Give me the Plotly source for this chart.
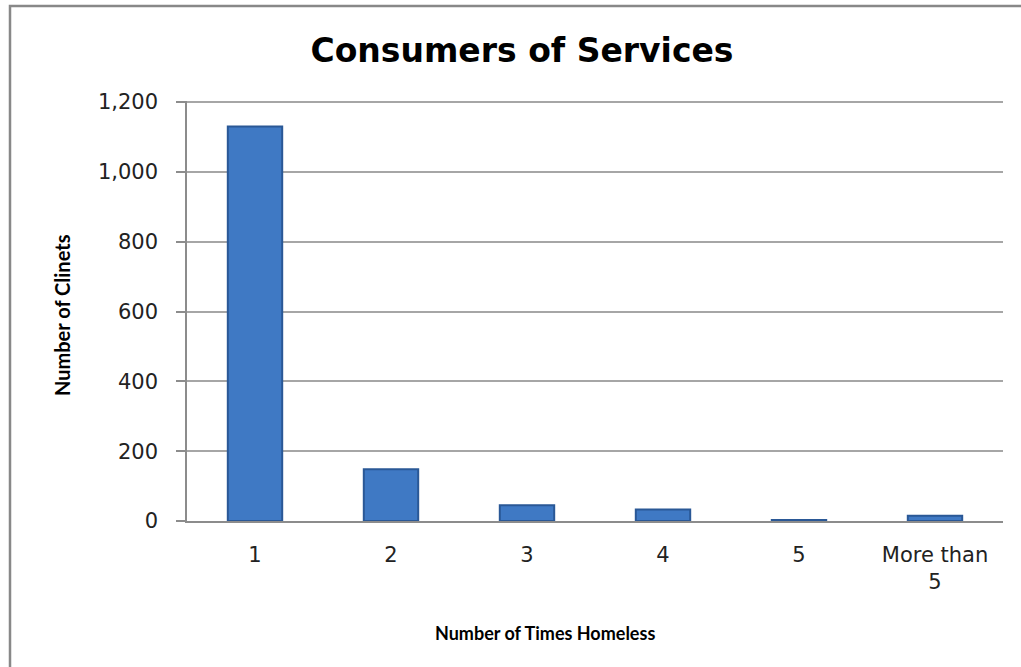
import plotly.graph_objects as go

categories = ["1", "2", "3", "4", "5", "More than<br>5"]
clients = [1130, 148, 45, 33, 3, 15]
y_ticks = [0, 200, 400, 600, 800, 1000, 1200]
y_tick_text = ["0", "200", "400", "600", "800", "1,000", "1,200"]

W, H = 1021, 667
L, R, T, B = 187, 18, 101, 146
pw, ph = W - L - R, H - T - B

def px_x(p):
    return (p - L) / pw

def px_y(p):
    return (H - B - p) / ph

fig = go.Figure()
fig.add_trace(go.Bar(
    x=categories, y=clients, width=0.4,
    marker=dict(color="#3f79c4", line=dict(color="#2a5896", width=2)),
))

fig.update_layout(
    width=W, height=H,
    margin=dict(l=L, r=R, t=T, b=B),
    paper_bgcolor="white", plot_bgcolor="white",
    showlegend=False,
    title=dict(text="<b>Consumers of Services</b>", x=522 / W, xref="container", xanchor="center",
               y=1 - 50 / H, yref="container", yanchor="middle",
               font=dict(family="DejaVu Sans", size=33, color="black")),
    xaxis=dict(showline=True, linecolor="#8c8c8c", linewidth=1.5, ticks="",
               tickfont=dict(family="DejaVu Sans", size=21, color="#222222"),
               ticklabelstandoff=14,
               showgrid=False),
    yaxis=dict(range=[0, 1203], tickvals=y_ticks, ticktext=y_tick_text,
               showline=True, linecolor="#8c8c8c", linewidth=1.5,
               ticks="outside", ticklen=9, tickcolor="#8c8c8c", tickwidth=1.5,
               ticklabelstandoff=14,
               showgrid=True, gridcolor="#a6a6a6", gridwidth=1.5,
               zeroline=False,
               tickfont=dict(family="DejaVu Sans", size=21, color="#222222")),
)

fig.add_annotation(text="<b>Number of Clinets</b>", textangle=-90, xref="paper", yref="paper",
                   x=px_x(62), y=px_y(315), xanchor="center", yanchor="middle", showarrow=False,
                   font=dict(family="Lato", size=20, color="black"))
fig.add_annotation(text="<b>Number of Times Homeless</b>", xref="paper", yref="paper",
                   x=px_x(545), y=px_y(633), xanchor="center", yanchor="middle", showarrow=False,
                   font=dict(family="Lato", size=18, color="black"))

fig.add_shape(type="rect", xref="paper", yref="paper",
              x0=px_x(10), x1=px_x(1040), y0=px_y(690), y1=px_y(6),
              line=dict(color="#888888", width=2.5), layer="below")

fig.write_html("out.html")
